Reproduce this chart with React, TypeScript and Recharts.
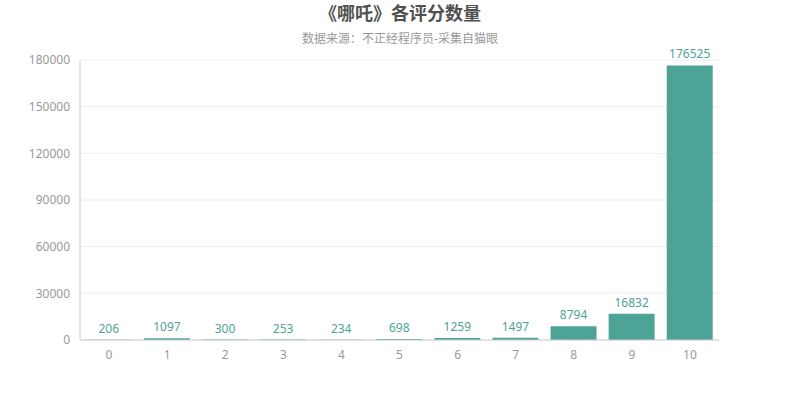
import { BarChart, Bar, XAxis, YAxis, CartesianGrid, LabelList } from 'recharts';

const scores = ['0', '1', '2', '3', '4', '5', '6', '7', '8', '9', '10'];
const counts = [206, 1097, 300, 253, 234, 698, 1259, 1497, 8794, 16832, 176525];
const yTicks = [0, 30000, 60000, 90000, 120000, 150000, 180000];

const data = scores.map((s, i) => ({ score: s, count: counts[i] }));

const FONT = '"Noto Sans", "Noto Sans CJK SC", sans-serif';

export default function App() {
    return (
        <div style={{ position: 'absolute', left: 0, top: 0, width: 800, height: 400, background: '#fff', fontFamily: FONT }}>
            <div style={{ position: 'absolute', top: 0, width: 800, textAlign: 'center', fontSize: 18, fontWeight: 'bold', color: '#505050', fontFamily: '"Noto Sans CJK SC", sans-serif', lineHeight: '24px' }}>
                《哪吒》各评分数量
            </div>
            <div style={{ position: 'absolute', top: 29, width: 800, textAlign: 'center', fontSize: 12, color: '#999', fontFamily: '"Noto Sans CJK SC", sans-serif', lineHeight: '18px' }}>
                数据来源：不正经程序员-采集自猫眼
            </div>
            <BarChart
                width={800}
                height={400}
                data={data}
                margin={{ top: 60, right: 81, left: 0, bottom: 30 }}
                barCategoryGap="10%"
            >
                <CartesianGrid vertical={false} stroke="#eee" />
                <XAxis
                    dataKey="score"
                    axisLine={{ stroke: '#ccc' }}
                    tickLine={false}
                    tick={{ fill: '#999', fontSize: 12, fontFamily: FONT }}
                    tickMargin={4}
                    height={30}
                />
                <YAxis
                    domain={[0, 180000]}
                    ticks={yTicks}
                    axisLine={{ stroke: '#ccc' }}
                    tickLine={false}
                    tick={{ fill: '#999', fontSize: 12, fontFamily: FONT }}
                    width={80}
                    tickMargin={4}
                />
                <Bar dataKey="count" fill="#4ea397" isAnimationActive={false}>
                    <LabelList dataKey="count" position="top" offset={7} fill="#4ea397" fontSize={12} fontFamily={FONT} />
                </Bar>
            </BarChart>
        </div>
    );
}
